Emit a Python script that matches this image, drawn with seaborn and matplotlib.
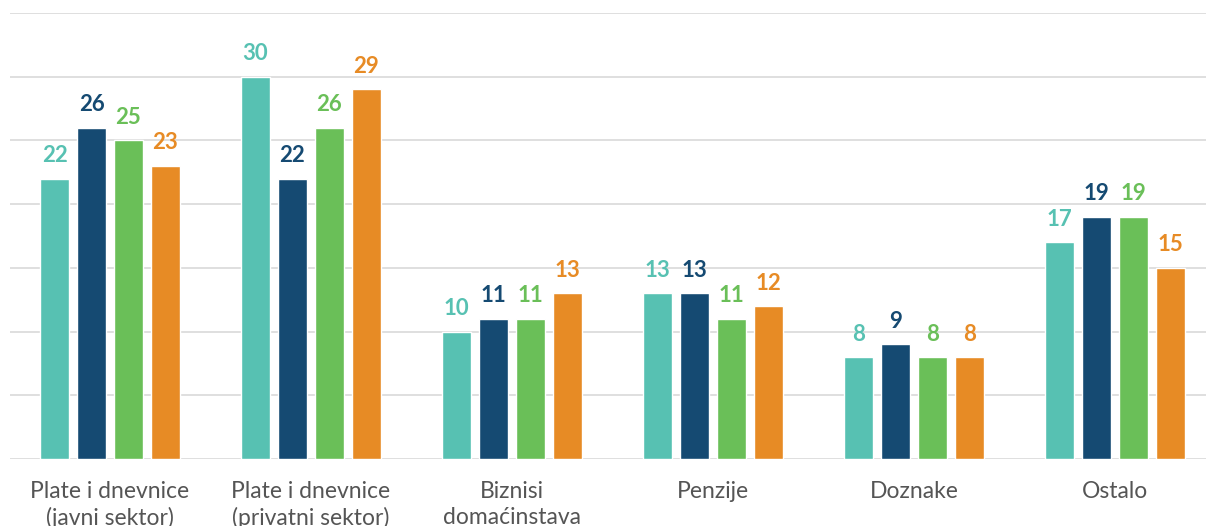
import pandas as pd
import matplotlib.pyplot as plt
import seaborn as sns

# Kategorije i vrijednosti (%)
categories = [
    "Plate i dnevnice\n(javni sektor)",
    "Plate i dnevnice\n(privatni sektor)",
    "Biznisi\ndomaćinstava",
    "Penzije",
    "Doznake",
    "Ostalo",
]
series_names = ["Serija 1", "Serija 2", "Serija 3", "Serija 4"]
serija_1 = [22, 30, 10, 13, 8, 17]
serija_2 = [26, 22, 11, 13, 9, 19]
serija_3 = [25, 26, 11, 11, 8, 19]
serija_4 = [23, 29, 13, 12, 8, 15]
colors = ["#57C1B2", "#154A72", "#6ABF58", "#E78B25"]

rows = []
for name, vals in zip(series_names, [serija_1, serija_2, serija_3, serija_4]):
    for cat, v in zip(categories, vals):
        rows.append({"kategorija": cat, "serija": name, "vrijednost": v})
df = pd.DataFrame(rows)

sns.set_style("white")
plt.rcParams["font.family"] = ["Lato", "DejaVu Sans"]

fig = plt.figure(figsize=(12.06, 5.26), dpi=100)
ax = fig.add_axes([10 / 1206, 67 / 526, 1 - 10 / 1206, (526 - 13 - 67) / 526])

sns.barplot(data=df, x="kategorija", y="vrijednost", hue="serija",
            order=categories, hue_order=series_names, palette=colors,
            width=0.736, gap=0.22, saturation=1, legend=False, ax=ax,
            zorder=3)

for cont, c in zip(ax.containers, colors):
    ax.bar_label(cont, fmt="%d", padding=9, color=c, fontsize=16,
                 fontweight="bold")

ax.set_ylim(0, 35)
ax.set_xlim(-0.4975, 5.453)
ax.set_yticks(range(0, 36, 5))
ax.yaxis.grid(True, color="#dcdcdc", linewidth=1.3, zorder=0)
ax.set_axisbelow(True)
ax.tick_params(axis="y", left=False, labelleft=False)
ax.tick_params(axis="x", bottom=False, pad=12, labelsize=16.5,
               labelcolor="#555555")
for lbl in ax.get_xticklabels():
    lbl.set_linespacing(1.3)
ax.set_xlabel("")
ax.set_ylabel("")
sns.despine(ax=ax, left=True, bottom=True)

fig.savefig("out.png", dpi=100)
